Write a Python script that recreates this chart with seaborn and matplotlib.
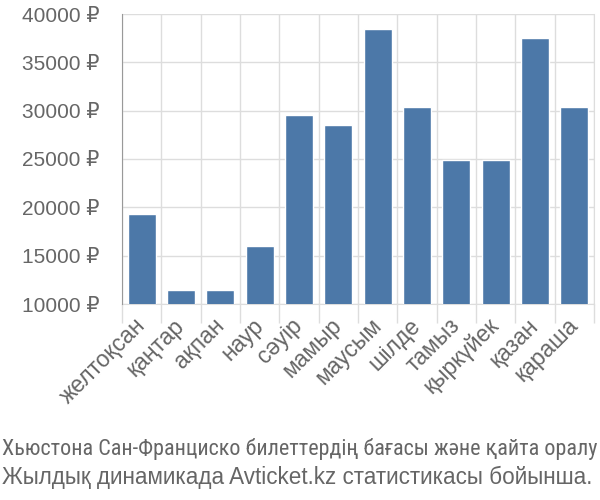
import matplotlib
matplotlib.use("Agg")
import matplotlib.pyplot as plt
import seaborn as sns
import pandas as pd
from matplotlib.ticker import FixedLocator
from matplotlib import font_manager

months = ["желтоқсан", "қаңтар", "ақпан", "наур", "сәуір", "мамыр",
          "маусым", "шілде", "тамыз", "қыркүйек", "қазан", "қараша"]
prices = [19300, 11450, 11450, 16000, 29550, 28500,
          38450, 30350, 24900, 24900, 37480, 30350]
y_ticks = [10000, 15000, 20000, 25000, 30000, 35000, 40000]
caption = ["Хьюстона Сан-Франциско билеттердің бағасы және қайта оралу",
           "Жылдық динамикада Avticket.kz статистикасы бойынша."]

sns.set_style("white")
names = {f.name for f in font_manager.fontManager.ttflist}
plt.rcParams['font.family'] = ['Liberation Sans', 'DejaVu Sans']
cap_font = 'Liberation Sans'
for cand in ['Roboto Condensed', 'Liberation Sans Narrow', 'Arial Narrow', 'Roboto']:
    if cand in names:
        cap_font = cand
        break

df = pd.DataFrame({"month": months, "price": prices})

fig = plt.figure(figsize=(6, 5), dpi=100)
ax = fig.add_axes([122/600, 1-304/500, 472/600, 290/500])
sns.barplot(data=df, x="month", y="price", color="#4c78a8", saturation=1,
            width=0.72, ax=ax, zorder=3)
ax.set_ylim(10000, 40000)
ax.set_xlim(-0.5, len(months)-0.5)
ax.set_yticks(y_ticks)
ax.set_yticklabels([f"{v} ₽" for v in y_ticks])
ax.set_xlabel("")
ax.set_ylabel("")

ax.xaxis.set_minor_locator(FixedLocator([i + 0.5 for i in range(-1, len(months))]))
ax.grid(True, axis='y', color='#dddddd', linewidth=1, zorder=0)
ax.grid(True, axis='x', which='minor', color='#dddddd', linewidth=1, zorder=0)
ax.grid(False, axis='x', which='major')
ax.tick_params(axis='y', length=14.4, width=1, color='#dddddd', pad=2,
               labelsize=15, labelcolor='#666666')
ax.tick_params(axis='x', which='major', length=0, pad=13,
               labelsize=16.5, labelcolor='#666666')
ax.tick_params(axis='x', which='minor', length=14, width=1, color='#dddddd', bottom=True)
for lab in ax.get_xticklabels():
    lab.set_rotation(45)
    lab.set_ha('right')
    lab.set_va('center')
    lab.set_rotation_mode('anchor')

ax.spines['top'].set_visible(False)
ax.spines['right'].set_color('#dddddd')
ax.spines['left'].set_color('#999999')
ax.spines['left'].set_zorder(4)
ax.spines['bottom'].set_color('#dddddd')

fonts = [cap_font, 'Liberation Sans']
texts = []
for line, ybase, fam in zip(caption, [455, 484], fonts):
    t = fig.text(2/600, 1-ybase/500, line, fontsize=15, color='#666666',
                 family=[fam, 'DejaVu Sans'], ha='left', va='baseline')
    texts.append(t)

fig.canvas.draw()
r = fig.canvas.get_renderer()
for t in texts:
    w0 = t.get_window_extent(r).width
    t.set_fontsize(15 * min(1.2, 595 / w0))

fig.savefig("out.png", dpi=100)
